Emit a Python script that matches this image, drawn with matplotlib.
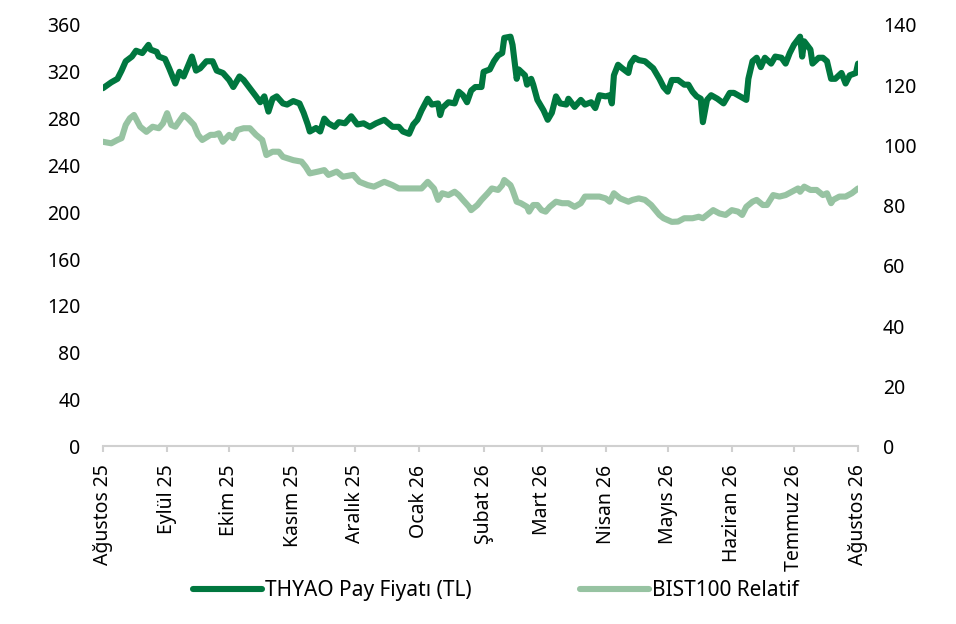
import matplotlib
matplotlib.use('Agg')
import matplotlib.pyplot as plt
import pandas as pd

# THYAO pay fiyati (TL), sol eksen
thy_dates = [
    '2025-08-01', '2025-08-05', '2025-08-08', '2025-08-10', '2025-08-12', '2025-08-15',
    '2025-08-17', '2025-08-20', '2025-08-23', '2025-08-24', '2025-08-27', '2025-08-28',
    '2025-08-31', '2025-09-02', '2025-09-05', '2025-09-07', '2025-09-09', '2025-09-13',
    '2025-09-15', '2025-09-17', '2025-09-20', '2025-09-23', '2025-09-25', '2025-09-28',
    '2025-10-01', '2025-10-03', '2025-10-06', '2025-10-08', '2025-10-11', '2025-10-14',
    '2025-10-16', '2025-10-18', '2025-10-20', '2025-10-22', '2025-10-24', '2025-10-27',
    '2025-10-29', '2025-11-01', '2025-11-04', '2025-11-06', '2025-11-08', '2025-11-09',
    '2025-11-12', '2025-11-14', '2025-11-16', '2025-11-18', '2025-11-21', '2025-11-23',
    '2025-11-26', '2025-11-29', '2025-12-02', '2025-12-05', '2025-12-08', '2025-12-11',
    '2025-12-15', '2025-12-17', '2025-12-19', '2025-12-22', '2025-12-24', '2025-12-27',
    '2025-12-29', '2025-12-31', '2026-01-02', '2026-01-05', '2026-01-07', '2026-01-10',
    '2026-01-11', '2026-01-12', '2026-01-15', '2026-01-18', '2026-01-20', '2026-01-22',
    '2026-01-24', '2026-01-26', '2026-01-28', '2026-01-31', '2026-02-01', '2026-02-04',
    '2026-02-06', '2026-02-08', '2026-02-10', '2026-02-11', '2026-02-14', '2026-02-15',
    '2026-02-17', '2026-02-18', '2026-02-21', '2026-02-22', '2026-02-24', '2026-02-25',
    '2026-02-27', '2026-03-01', '2026-03-02', '2026-03-04', '2026-03-06', '2026-03-08',
    '2026-03-10', '2026-03-13', '2026-03-14', '2026-03-17', '2026-03-20', '2026-03-22',
    '2026-03-25', '2026-03-27', '2026-03-29', '2026-04-01', '2026-04-03', '2026-04-04',
    '2026-04-05', '2026-04-07', '2026-04-09', '2026-04-12', '2026-04-13', '2026-04-15',
    '2026-04-17', '2026-04-20', '2026-04-22', '2026-04-24', '2026-04-27', '2026-04-29',
    '2026-05-01', '2026-05-03', '2026-05-06', '2026-05-09', '2026-05-11', '2026-05-13',
    '2026-05-15', '2026-05-17', '2026-05-18', '2026-05-20', '2026-05-22', '2026-05-25',
    '2026-05-28', '2026-05-31', '2026-06-02', '2026-06-04', '2026-06-08', '2026-06-09',
    '2026-06-11', '2026-06-13', '2026-06-15', '2026-06-17', '2026-06-20', '2026-06-22',
    '2026-06-25', '2026-06-27', '2026-06-29', '2026-07-01', '2026-07-04', '2026-07-05',
    '2026-07-06', '2026-07-09', '2026-07-10', '2026-07-13', '2026-07-15', '2026-07-17',
    '2026-07-19', '2026-07-21', '2026-07-24', '2026-07-26', '2026-07-28', '2026-07-31',
    '2026-08-01',
]
thy_vals = [
    306, 311, 314, 321, 329, 333, 338, 336, 343, 339, 337, 333,
    331, 323, 310, 320, 316, 333, 321, 323, 329, 329, 321, 319,
    313, 307, 316, 313, 306, 299, 294, 299, 286, 297, 299, 293,
    292, 295, 293, 285, 275, 269, 272, 269, 280, 276, 273, 277,
    276, 282, 275, 276, 273, 276, 279, 276, 273, 273, 269, 267,
    275, 279, 287, 297, 292, 293, 283, 289, 294, 293, 303, 300,
    294, 304, 307, 307, 320, 322, 329, 334, 336, 349, 350, 343,
    314, 322, 317, 309, 314, 309, 296, 290, 287, 279, 285, 299,
    293, 292, 297, 290, 296, 292, 294, 289, 300, 299, 300, 293,
    317, 326, 323, 319, 327, 332, 330, 329, 326, 323, 314, 307,
    303, 313, 313, 309, 309, 303, 299, 297, 277, 296, 300, 297,
    293, 302, 302, 300, 296, 314, 329, 332, 324, 332, 327, 333,
    332, 327, 336, 343, 350, 333, 346, 339, 327, 332, 332, 329,
    314, 314, 319, 310, 317, 319, 327,
]

# BIST100 relatif, sag eksen
bist_dates = [
    '2025-08-01', '2025-08-05', '2025-08-08', '2025-08-10', '2025-08-12', '2025-08-14',
    '2025-08-16', '2025-08-19', '2025-08-22', '2025-08-25', '2025-08-28', '2025-08-30',
    '2025-09-01', '2025-09-03', '2025-09-05', '2025-09-09', '2025-09-11', '2025-09-14',
    '2025-09-16', '2025-09-18', '2025-09-22', '2025-09-24', '2025-09-26', '2025-09-28',
    '2025-10-01', '2025-10-03', '2025-10-05', '2025-10-08', '2025-10-11', '2025-10-14',
    '2025-10-17', '2025-10-19', '2025-10-22', '2025-10-25', '2025-10-27', '2025-11-01',
    '2025-11-05', '2025-11-07', '2025-11-09', '2025-11-13', '2025-11-16', '2025-11-18',
    '2025-11-22', '2025-11-25', '2025-11-30', '2025-12-03', '2025-12-07', '2025-12-10',
    '2025-12-15', '2025-12-19', '2025-12-22', '2025-12-27', '2026-01-02', '2026-01-05',
    '2026-01-08', '2026-01-10', '2026-01-12', '2026-01-15', '2026-01-18', '2026-01-20',
    '2026-01-22', '2026-01-25', '2026-01-26', '2026-01-29', '2026-01-31', '2026-02-03',
    '2026-02-05', '2026-02-08', '2026-02-10', '2026-02-11', '2026-02-14', '2026-02-15',
    '2026-02-17', '2026-02-19', '2026-02-22', '2026-02-23', '2026-02-25', '2026-02-27',
    '2026-03-01', '2026-03-03', '2026-03-05', '2026-03-08', '2026-03-11', '2026-03-14',
    '2026-03-17', '2026-03-20', '2026-03-22', '2026-03-25', '2026-03-29', '2026-04-01',
    '2026-04-03', '2026-04-05', '2026-04-08', '2026-04-12', '2026-04-14', '2026-04-17',
    '2026-04-20', '2026-04-23', '2026-04-27', '2026-04-29', '2026-05-03', '2026-05-06',
    '2026-05-09', '2026-05-13', '2026-05-16', '2026-05-18', '2026-05-21', '2026-05-23',
    '2026-05-26', '2026-05-29', '2026-06-01', '2026-06-04', '2026-06-06', '2026-06-08',
    '2026-06-11', '2026-06-13', '2026-06-16', '2026-06-18', '2026-06-21', '2026-06-24',
    '2026-06-27', '2026-06-30', '2026-07-03', '2026-07-04', '2026-07-06', '2026-07-09',
    '2026-07-12', '2026-07-15', '2026-07-17', '2026-07-19', '2026-07-20', '2026-07-23',
    '2026-07-26', '2026-07-29', '2026-08-01',
]
bist_vals = [
    101.2, 100.7, 101.8, 102.4, 106.8, 109.0, 110.1, 106.2, 104.5, 106.2, 105.7, 107.3,
    110.7, 106.8, 106.2, 110.1, 109.0, 106.8, 103.5, 101.8, 103.5, 103.5, 104.0, 101.2,
    103.5, 102.4, 105.1, 105.7, 105.7, 103.5, 101.8, 96.8, 97.9, 97.9, 96.2, 95.1,
    94.6, 92.9, 90.7, 91.3, 91.8, 90.2, 91.3, 89.6, 90.2, 87.9, 86.8, 86.3,
    87.9, 86.8, 85.7, 85.7, 85.7, 87.9, 85.7, 81.9, 84.1, 83.5, 84.6, 83.5,
    81.9, 79.6, 78.5, 80.2, 81.9, 84.1, 85.7, 85.2, 86.8, 88.5, 86.8, 85.2,
    81.3, 80.8, 79.6, 78.0, 80.2, 80.2, 78.5, 78.0, 79.6, 81.3, 80.8, 80.8,
    79.6, 80.8, 83.0, 83.0, 83.0, 82.4, 81.3, 84.1, 82.4, 81.3, 81.9, 82.4,
    81.9, 80.2, 76.9, 75.8, 74.6, 74.7, 75.8, 75.8, 76.3, 75.8, 77.4, 78.5,
    77.4, 76.9, 78.5, 78.0, 76.9, 79.6, 81.3, 81.9, 80.2, 80.2, 83.5, 83.0,
    83.5, 84.6, 85.7, 84.6, 86.3, 85.2, 85.2, 83.5, 84.1, 80.8, 81.9, 83.0,
    83.0, 84.1, 85.7,
]

month_starts = pd.date_range('2025-08-01', '2026-08-01', freq='MS')
month_labels = ['Ağustos 25', 'Eylül 25', 'Ekim 25', 'Kasım 25', 'Aralık 25',
                'Ocak 26', 'Şubat 26', 'Mart 26', 'Nisan 26', 'Mayıs 26',
                'Haziran 26', 'Temmuz 26', 'Ağustos 26']

left_ticks = list(range(0, 361, 40))
right_ticks = list(range(0, 141, 20))

dark = '#00773F'
light = '#97C3A2'
grey = '#D0D0D0'

plt.rcParams['font.family'] = ['Noto Sans', 'DejaVu Sans']
plt.rcParams['font.size'] = 14

fig = plt.figure(figsize=(9.56, 6.24), dpi=100)
ax = fig.add_axes([0.1077, 0.2845, 0.7898, 0.6755])
ax2 = ax.twinx()

l1, = ax.plot(pd.to_datetime(thy_dates), thy_vals, color=dark, lw=4.4,
              solid_joinstyle='round', solid_capstyle='round',
              label='THYAO Pay Fiyatı (TL)')
l2, = ax2.plot(pd.to_datetime(bist_dates), bist_vals, color=light, lw=4.4,
               solid_joinstyle='round', solid_capstyle='round',
               label='BIST100 Relatif')

ax.set_xlim(month_starts[0], month_starts[-1])
ax.set_ylim(0, 360)
ax2.set_ylim(0, 140)
ax.set_yticks(left_ticks)
ax2.set_yticks(right_ticks)
ax.set_xticks(month_starts)
ax.set_xticklabels(month_labels, rotation=90)

for a in (ax, ax2):
    for s in ('top', 'left', 'right', 'bottom'):
        a.spines[s].set_visible(False)
ax.spines['bottom'].set_visible(True)
ax.spines['bottom'].set_color(grey)
ax.spines['bottom'].set_linewidth(1.5)

ax.tick_params(axis='x', length=4, width=1.5, color=grey, pad=9, labelsize=14)
ax.tick_params(axis='y', length=0, pad=16, labelsize=14)
ax2.tick_params(axis='y', length=0, pad=18, labelsize=14)

fig.legend(handles=[l1, l2], loc='center', bbox_to_anchor=(0.519, 0.053),
           ncol=2, frameon=False, handlelength=3.3, handletextpad=0.15,
           columnspacing=5.2, fontsize=15)

fig.savefig('out.png', dpi=100)
